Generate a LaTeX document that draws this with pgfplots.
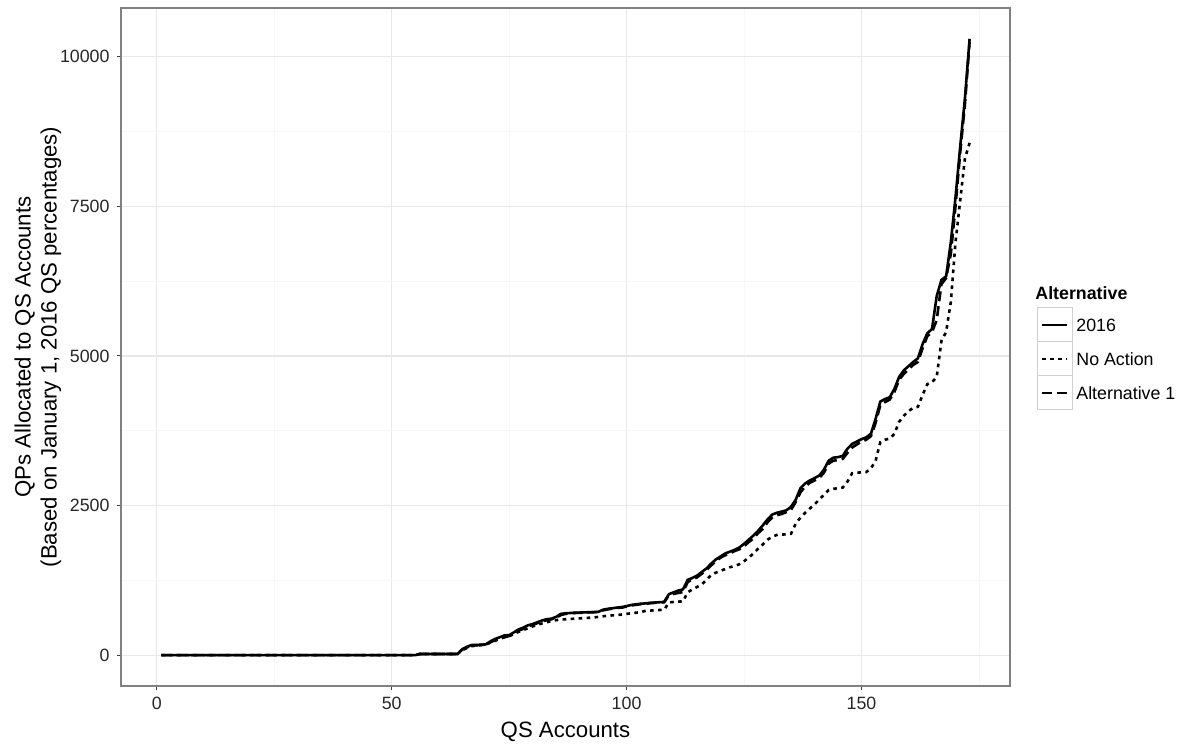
\documentclass[border=0pt]{standalone}
\usepackage{pgfplots}
\pgfplotsset{compat=1.18}
\usepackage{fontspec}
\setmainfont{Liberation Sans}
\definecolor{gridmaj}{HTML}{E8E8E8}
\definecolor{gridmin}{HTML}{F7F7F7}
\definecolor{frame}{HTML}{808080}
\definecolor{keybox}{HTML}{D0D0D0}
\begin{document}
\begin{tikzpicture}
\path[use as bounding box] (0,0) rectangle (591pt,372pt);
\begin{axis}[
  at={(60.5pt,29pt)}, anchor=south west,
  scale only axis, width=444.5pt, height=339pt,
  xmin=-7.6, xmax=181.6, ymin=-515, ymax=10815,
  xtick={0,50,100,150}, ytick={0,2500,5000,7500,10000},
  minor xtick={25,75,125,175}, minor ytick={1250,3750,6250,8750},
  grid=both,
  major grid style={gridmaj, line width=0.6pt},
  minor grid style={gridmin, line width=0.5pt},
  axis line style={frame, line width=0.6pt},
  tick align=outside, tick pos=left,
  major tick length=2.2pt, minor tick length=0pt,
  tick style={black!75, line width=0.5pt},
  /pgf/number format/assume math mode=true,
  /pgf/number format/1000 sep={},
  ticklabel style={font=\fontsize{8.9}{10}\selectfont, text=black!85},
  scaled y ticks=false,
  clip=false,
]
\addplot[black, line width=1.3pt, line join=round] coordinates {
(1,0)(55,0)(56,20)(64,20)(65,100)(66,140)(67,170)(68,170)(69,175)(70,180)
(71,230)(72,270)(73,300)(74,330)(75,335)(76,380)(77,430)(78,460)(79,500)(80,520)
(81,550)(82,580)(83,600)(84,610)(85,640)(86,690)(87,700)(88,705)(89,710)(90,712)
(91,715)(92,718)(93,720)(94,725)(95,760)(96,775)(97,785)(98,795)(99,805)(100,820)
(101,840)(102,850)(103,860)(104,865)(105,875)(106,880)(107,885)(108,890)(109,1020)(110,1050)
(111,1080)(112,1100)(113,1260)(114,1290)(115,1330)(116,1390)(117,1450)(118,1530)(119,1600)(120,1650)
(121,1700)(122,1730)(123,1760)(124,1800)(125,1860)(126,1930)(127,2000)(128,2080)(129,2170)(130,2270)
(131,2350)(132,2380)(133,2400)(134,2420)(135,2480)(136,2600)(137,2790)(138,2870)(139,2920)(140,2960)
(141,3000)(142,3100)(143,3250)(144,3300)(145,3310)(146,3330)(147,3450)(148,3530)(149,3570)(150,3610)
(151,3640)(152,3700)(153,3950)(154,4240)(155,4280)(156,4310)(157,4450)(158,4650)(159,4760)(160,4830)
(161,4900)(162,4960)(163,5200)(164,5380)(165,5450)(166,6000)(167,6270)(168,6330)(169,6900)(170,7650)
(171,8500)(172,9300)(173,10300)
};
\addplot[black, line width=1.3pt, dash pattern=on 1.8pt off 2.2pt] coordinates {
(1,0)(55,0)(56,20)(64,20)(65,80)(66,120)(67,150)(68,160)(69,170)(70,175)
(71,210)(72,240)(73,270)(74,300)(75,320)(76,350)(77,390)(78,420)(79,450)(80,480)
(81,510)(82,530)(83,550)(84,570)(85,585)(86,595)(87,600)(88,605)(89,610)(90,615)
(91,620)(92,625)(93,630)(94,640)(95,650)(96,660)(97,665)(98,670)(99,680)(100,690)
(101,700)(102,710)(103,720)(104,740)(105,745)(106,750)(107,755)(108,760)(109,880)(110,890)
(111,895)(112,900)(113,1050)(114,1100)(115,1140)(116,1180)(117,1260)(118,1340)(119,1380)(120,1410)
(121,1440)(122,1470)(123,1490)(124,1520)(125,1570)(126,1630)(127,1700)(128,1780)(129,1850)(130,1930)
(131,1980)(132,2010)(133,2015)(134,2020)(135,2030)(136,2200)(137,2300)(138,2380)(139,2450)(140,2520)
(141,2600)(142,2680)(143,2760)(144,2780)(145,2790)(146,2800)(147,2900)(148,3040)(149,3050)(150,3055)
(151,3060)(152,3120)(153,3250)(154,3560)(155,3600)(156,3620)(157,3700)(158,3900)(159,4000)(160,4080)
(161,4130)(162,4150)(163,4350)(164,4530)(165,4560)(166,4650)(167,5250)(168,5400)(169,5900)(170,6900)
(171,7600)(172,8300)(173,8560)
};
\addplot[black, line width=1.3pt, dash pattern=on 5pt off 2.5pt] coordinates {
(1,0)(55,0)(56,20)(64,20)(65,90)(66,130)(67,160)(68,165)(69,170)(70,175)
(71,215)(72,250)(73,285)(74,300)(75,320)(76,360)(77,410)(78,440)(79,480)(80,505)
(81,535)(82,565)(83,585)(84,600)(85,625)(86,670)(87,690)(88,700)(89,705)(90,708)
(91,712)(92,715)(93,718)(94,722)(95,750)(96,765)(97,778)(98,790)(99,795)(100,812)
(101,830)(102,842)(103,852)(104,858)(105,868)(106,874)(107,880)(108,885)(109,1000)(110,1025)
(111,1040)(112,1055)(113,1220)(114,1270)(115,1300)(116,1360)(117,1420)(118,1500)(119,1570)(120,1630)
(121,1670)(122,1700)(123,1740)(124,1770)(125,1820)(126,1890)(127,1950)(128,2040)(129,2110)(130,2220)
(131,2300)(132,2340)(133,2360)(134,2390)(135,2430)(136,2560)(137,2720)(138,2820)(139,2880)(140,2920)
(141,2960)(142,3050)(143,3200)(144,3250)(145,3260)(146,3280)(147,3380)(148,3470)(149,3520)(150,3570)
(151,3600)(152,3660)(153,3880)(154,4180)(155,4230)(156,4270)(157,4400)(158,4600)(159,4700)(160,4780)
(161,4850)(162,4900)(163,5130)(164,5330)(165,5400)(166,5600)(167,6200)(168,6300)(169,6700)(170,7500)
(171,8400)(172,9200)(173,10250)
};
\end{axis}
% axis titles
\node[rotate=90, align=center, font=\fontsize{11.1}{13}\selectfont] at (19pt,198.5pt)
  {QPs Allocated to QS Accounts\\(Based on January 1, 2016 QS percentages)};
\node[font=\fontsize{11.1}{13}\selectfont] at (282.75pt,6pt) {QS Accounts};
% legend
\node[anchor=west, font=\bfseries\fontsize{8.9}{10}\selectfont, inner sep=0pt] at (517.5pt,225.5pt) {Alternative};
\draw[keybox, line width=0.5pt, fill=white] (518.5pt,201pt) rectangle (536pt,218pt);
\draw[keybox, line width=0.5pt, fill=white] (518.5pt,184pt) rectangle (536pt,201pt);
\draw[keybox, line width=0.5pt, fill=white] (518.5pt,167pt) rectangle (536pt,184pt);
\draw[black, line width=1.3pt] (521pt,209.5pt) -- (533.5pt,209.5pt);
\draw[black, line width=1.3pt, dash pattern=on 1.8pt off 2.2pt] (521pt,192.5pt) -- (533.5pt,192.5pt);
\draw[black, line width=1.3pt, dash pattern=on 5pt off 2.5pt] (521pt,175.5pt) -- (533.5pt,175.5pt);
\node[anchor=west, font=\fontsize{8.9}{10}\selectfont, inner sep=0pt] at (538pt,209.5pt) {2016};
\node[anchor=west, font=\fontsize{8.9}{10}\selectfont, inner sep=0pt] at (538pt,192.5pt) {No Action};
\node[anchor=west, font=\fontsize{8.9}{10}\selectfont, inner sep=0pt] at (538pt,175.5pt) {Alternative 1};
\end{tikzpicture}
\end{document}
